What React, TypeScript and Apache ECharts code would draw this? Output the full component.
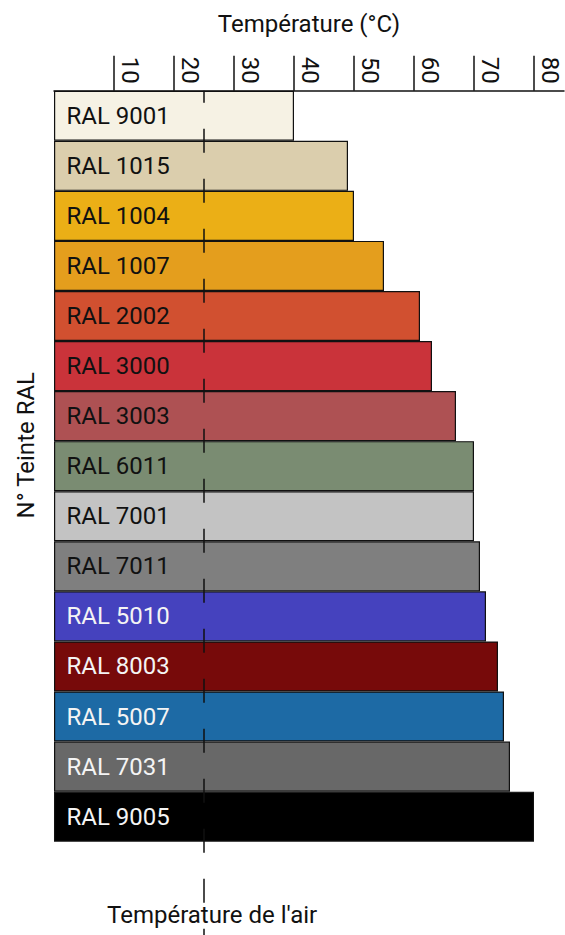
import React, { useEffect, useRef } from "react";
import * as echarts from "echarts";

const categories = [
  "RAL 9001", "RAL 1015", "RAL 1004", "RAL 1007", "RAL 2002",
  "RAL 3000", "RAL 3003", "RAL 6011", "RAL 7001", "RAL 7011",
  "RAL 5010", "RAL 8003", "RAL 5007", "RAL 7031", "RAL 9005",
];
const temperatures = [40, 49, 50, 55, 61, 63, 67, 70, 70, 71, 72, 74, 75, 76, 80];
const barColors = [
  "#F6F2E4", "#DBCEAD", "#EBAF16", "#E49E1D", "#D15030",
  "#CA333A", "#AE5153", "#7A8C72", "#C3C3C3", "#7F7F7F",
  "#4542BE", "#770A0A", "#1D6AA5", "#686868", "#000000",
];
const labelColors = [
  "#111111", "#111111", "#111111", "#111111", "#111111",
  "#111111", "#111111", "#111111", "#111111", "#111111",
  "#F4F4F4", "#F4F4F4", "#F4F4F4", "#F4F4F4", "#F4F4F4",
];
const tickValues = [10, 20, 30, 40, 50, 60, 70, 80];
const airTemperature = 25;
const xTitle = "Température (°C)";
const yTitle = "N° Teinte RAL";
const airLabel = "Température de l'air";

const FONT = "Roboto, 'Liberation Sans', sans-serif";

export default function App() {
  const ref = useRef<HTMLDivElement>(null);
  useEffect(() => {
    if (!ref.current) return;
    const chart = echarts.init(ref.current, null, { renderer: "svg" });
    const xMax = 85;
    chart.setOption({
      animation: false,
      backgroundColor: "#ffffff",
      textStyle: { fontFamily: FONT },
      title: {
        text: airLabel,
        left: 107,
        top: 903,
        padding: 0,
        textStyle: { fontFamily: FONT, fontSize: 24, fontWeight: "normal", color: "#111111" },
      },
      grid: [
        { left: 54, right: 1, top: 90.7, bottom: 93.3, containLabel: false },
        { left: 54, right: 1, top: 90.7, bottom: 0, containLabel: false },
      ],
      xAxis: [
        {
          type: "value",
          gridIndex: 0,
          position: "top",
          min: 0,
          max: xMax,
          interval: 10,
          name: xTitle,
          nameLocation: "middle",
          nameGap: 55,
          nameTextStyle: { fontFamily: FONT, fontSize: 24, color: "#111111" },
          axisLine: { show: true, lineStyle: { color: "#111111", width: 1.5 } },
          axisTick: {
            show: true,
            length: 35,
            customValues: tickValues,
            lineStyle: { color: "#111111", width: 1.5 },
          },
          axisLabel: {
            show: true,
            customValues: tickValues,
            rotate: 90,
            align: "right",
            verticalAlign: "bottom",
            margin: 7,
            padding: [0, 0, 4, 0],
            fontFamily: FONT,
            fontSize: 24,
            color: "#111111",
          },
          splitLine: { show: false },
          z: 10,
        },
        {
          type: "value",
          gridIndex: 1,
          min: 0,
          max: xMax,
          show: false,
        },
      ],
      yAxis: [
        {
          type: "category",
          gridIndex: 0,
          data: categories,
          inverse: true,
          name: yTitle,
          nameLocation: "middle",
          nameGap: 16,
          nameRotate: 90,
          nameTextStyle: {
            fontFamily: FONT,
            fontSize: 24,
            color: "#111111",
            padding: [0, 0, 0, 42],
          },
          axisLine: { show: false },
          axisTick: { show: false },
          axisLabel: { show: false },
          splitLine: { show: false },
        },
        {
          type: "value",
          gridIndex: 1,
          min: 0,
          max: 1,
          show: false,
        },
      ],
      series: [
        {
          type: "bar",
          xAxisIndex: 0,
          yAxisIndex: 0,
          barCategoryGap: 0,
          data: temperatures.map((v, i) => ({
            value: v,
            itemStyle: { color: barColors[i] },
            label: { color: labelColors[i] },
          })),
          itemStyle: { borderColor: "#111111", borderWidth: 1.2 },
          label: {
            show: true,
            position: "insideLeft",
            distance: 12.5,
            formatter: "{b}",
            fontFamily: FONT,
            fontSize: 24,
          },
          z: 2,
        },
        {
          type: "line",
          xAxisIndex: 1,
          yAxisIndex: 1,
          data: [
            [airTemperature, 1],
            [airTemperature, 0],
          ],
          symbol: "none",
          lineStyle: {
            color: "#111111",
            width: 1.5,
            type: [24, 26],
            dashOffset: 12,
          },
          z: 5,
          silent: true,
        },
      ],
    });
    return () => chart.dispose();
  }, []);
  return (
    <div
      ref={ref}
      style={{ position: "absolute", left: 0, top: 0, width: 565, height: 935 }}
    />
  );
}
